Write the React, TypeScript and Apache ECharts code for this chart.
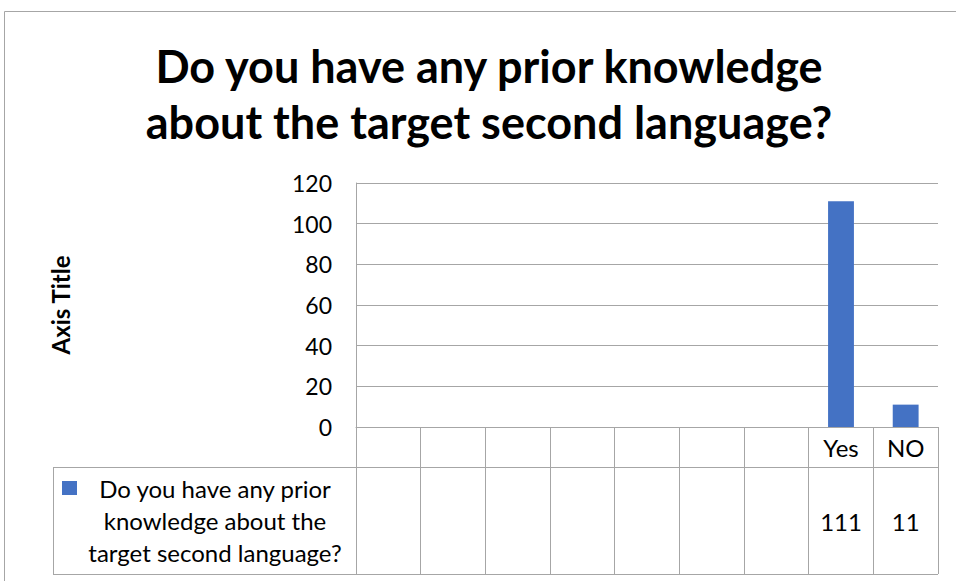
import React, { useEffect, useRef } from "react";
import * as echarts from "echarts";

const titleLines = ["Do you have any prior knowledge", "about the target second language?"];
const seriesName = "Do you have any prior knowledge about the target second language?";
const legendLines = ["Do you have any prior", "knowledge about the", "target second language?"];
const categories = ["", "", "", "", "", "", "", "Yes", "NO"];
const values: (number | null)[] = [null, null, null, null, null, null, null, 111, 11];
const yTicks = { min: 0, max: 120, interval: 20 };
const yAxisTitle = "Axis Title";

const FONT = "Lato";
const GRID = "#a6a6a6";

export default function App() {
  const ref = useRef<HTMLDivElement>(null);
  useEffect(() => {
    if (!ref.current) return;
    const chart = echarts.init(ref.current, undefined, { renderer: "svg" });
    const tableLabels = values.map((v) => (v == null ? "" : String(v)));
    chart.setOption({
      animation: false,
      backgroundColor: "#ffffff",
      legend: {
        show: true,
        left: 62,
        top: 476,
        padding: 0,
        icon: "rect",
        itemWidth: 15,
        itemHeight: 14,
        data: [seriesName],
        formatter: () => legendLines.map((l) => `{a|${l}}`).join("\n"),
        textStyle: {
          fontFamily: FONT,
          fontSize: 24,
          color: "#000000",
          padding: [64, 0, 0, 0],
          rich: {
            a: { width: 266, align: "center", fontFamily: FONT, fontSize: 24, lineHeight: 32, color: "#000000" },
          },
        },
      },
      grid: { left: 356, right: 18, top: 183, bottom: 154, containLabel: false },
      xAxis: [
        {
          type: "category",
          data: categories,
          position: "bottom",
          axisLine: { show: true, lineStyle: { color: GRID, width: 1 } },
          axisTick: { show: true, interval: 0, length: 147, lineStyle: { color: GRID, width: 1 } },
          axisLabel: {
            interval: 0,
            margin: 8,
            fontFamily: FONT,
            fontSize: 24,
            lineHeight: 24,
            color: "#000000",
          },
        },
        {
          type: "category",
          data: tableLabels,
          position: "bottom",
          offset: 40,
          axisLine: { show: false },
          axisTick: { show: false },
          axisLabel: {
            interval: 0,
            margin: 42,
            fontFamily: FONT,
            fontSize: 24,
            lineHeight: 24,
            color: "#000000",
          },
        },
      ],
      yAxis: {
        type: "value",
        min: yTicks.min,
        max: yTicks.max,
        interval: yTicks.interval,
        name: yAxisTitle,
        nameLocation: "middle",
        nameGap: 284,
        nameRotate: 90,
        nameTextStyle: { fontFamily: FONT, fontWeight: "bold", fontSize: 24, color: "#000000" },
        axisLine: { show: true, lineStyle: { color: GRID, width: 1 } },
        axisTick: { show: false },
        splitLine: { show: true, lineStyle: { color: GRID, width: 1 } },
        axisLabel: { margin: 24, fontFamily: FONT, fontSize: 23, color: "#000000" },
      },
      series: [
        {
          name: seriesName,
          type: "bar",
          data: values,
          barWidth: "40%",
          itemStyle: { color: "#4472C4" },
        },
      ],
      graphic: [
        {
          type: "rect",
          shape: { x: 4.5, y: 11.5, width: 1200, height: 1200 },
          style: { fill: "none", stroke: "#a6a6a6", lineWidth: 1 },
          silent: true,
          z: -1,
        },
        {
          type: "text",
          x: 489,
          y: 38,
          style: {
            text: titleLines.join("\n"),
            fontFamily: FONT,
            fontWeight: "bold",
            fontSize: 45,
            lineHeight: 56,
            fill: "#000000",
            align: "center",
            verticalAlign: "top",
          },
        },
        {
          type: "line",
          shape: { x1: 53, y1: 467.5, x2: 938, y2: 467.5 },
          style: { stroke: GRID, lineWidth: 1 },
        },
        {
          type: "line",
          shape: { x1: 53, y1: 574.5, x2: 938, y2: 574.5 },
          style: { stroke: GRID, lineWidth: 1 },
        },
        {
          type: "line",
          shape: { x1: 53.5, y1: 467, x2: 53.5, y2: 575 },
          style: { stroke: GRID, lineWidth: 1 },
        },
      ],
    });
    return () => chart.dispose();
  }, []);
  return <div ref={ref} style={{ width: 956, height: 581, position: "absolute", left: 0, top: 0 }} />;
}
